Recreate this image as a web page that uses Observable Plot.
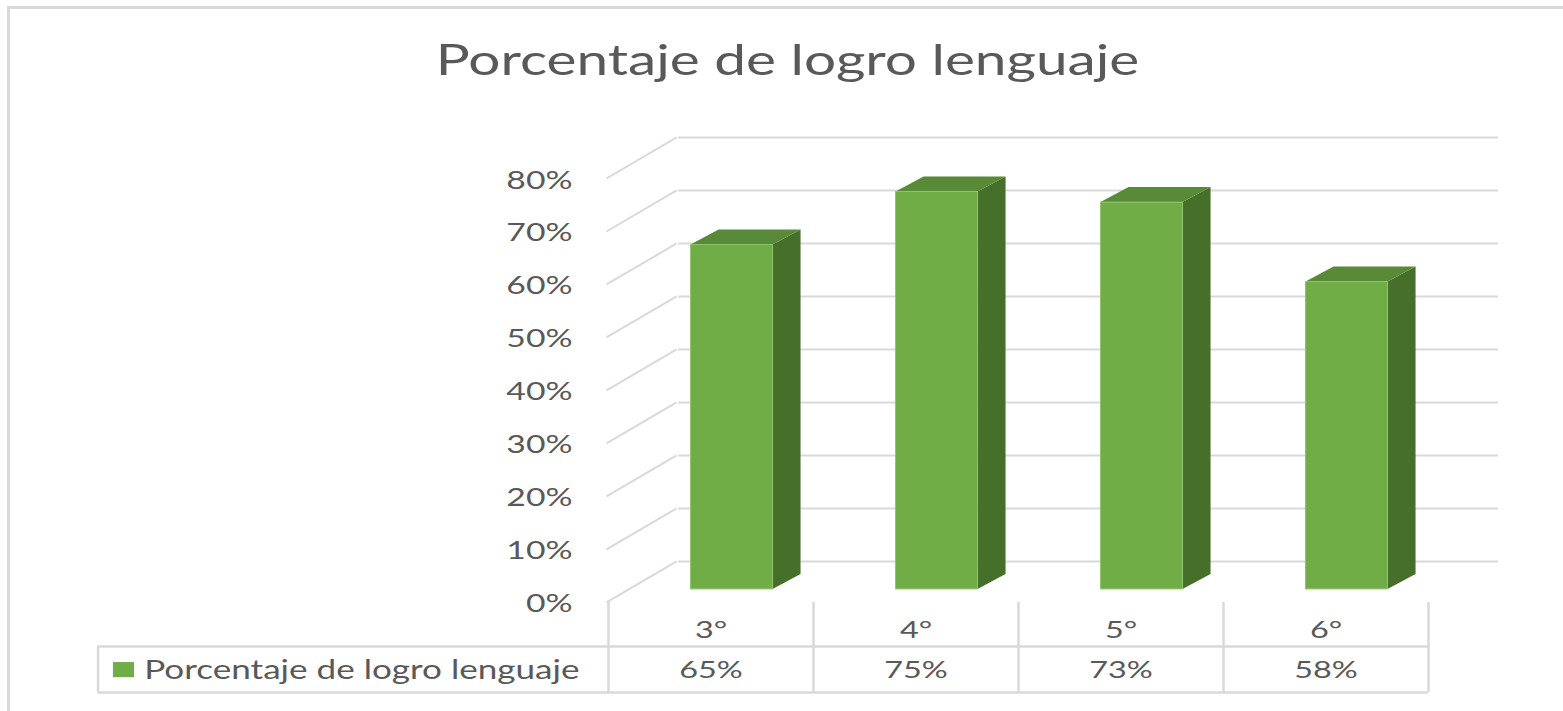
<!DOCTYPE html>
<html>
<head>
<meta charset="utf-8">
<script src="https://cdn.jsdelivr.net/npm/d3@7"></script>
<script src="https://cdn.jsdelivr.net/npm/@observablehq/plot@0.6"></script>
<style>
  html, body { margin: 0; padding: 0; background: #fff; width: 1563px; height: 711px; overflow: hidden; position: relative; }
  #frame { position: absolute; left: 7px; top: 6px; width: 1700px; height: 900px; border-left: 3px solid #d9d9d9; border-top: 3px solid #d9d9d9; pointer-events: none; }
  #title { height: 110px; box-sizing: border-box; padding-top: 34px; padding-left: 13px; text-align: center; font-family: Lato, sans-serif; font-size: 42px; line-height: 1.2; color: #595959; }
  #title span { display: inline-block; transform: scaleX(1.35); }
  #chart svg { display: block; }
</style>
</head>
<body>
<div id="title"><span id="titleText"></span></div>
<div id="chart"></div>
<div id="frame"></div>
<script>
// ---- data ----
const chartTitle = "Porcentaje de logro lenguaje";
const seriesName = "Porcentaje de logro lenguaje";
const categories = ["3°", "4°", "5°", "6°"];
const values = [65, 75, 73, 58];
const valueLabels = ["65%", "75%", "73%", "58%"];
const yTicks = [0, 10, 20, 30, 40, 50, 60, 70, 80];

// ---- styling / 3D geometry constants (data units) ----
const TEXT = "#595959";
const GRID = "#d9d9d9";
const FRONT = "#70ad47", TOP = "#588a38", SIDE = "#466f29";
const BAR_L = 0.31, BAR_R = 0.71;      // bar extent inside its category slot
const SIDE_X = 0.1366, SIDE_Y = 2.83;  // bar depth
const WALL_X = 0.342, WALL_Y = 7.74;   // floor depth to back wall
const ROW1 = -5.3, ROW2 = -12.8, SEP = -8.3, BOTTOM = -17, LEGEND_X = -2.49;
const STRETCH = 1.35;

document.getElementById("titleText").textContent = chartTitle;

const rows = categories.map((c, i) => ({c, i, v: values[i], label: valueLabels[i]}));
const sidePts = rows.flatMap(r => [
  {c: r.c, x: r.i + BAR_R, y1: 0, y2: r.v},
  {c: r.c, x: r.i + BAR_R + SIDE_X, y1: SIDE_Y, y2: r.v + SIDE_Y}
]);
const topPts = rows.flatMap(r => [
  {c: r.c, y: r.v, x1: r.i + BAR_L, x2: r.i + BAR_R},
  {c: r.c, y: r.v + SIDE_Y, x1: r.i + BAR_L + SIDE_X, x2: r.i + BAR_R + SIDE_X}
]);

const BAR_DX = 19, BAR_DY = -13;

const plot = Plot.plot({
  width: 1563,
  height: 601,
  marginLeft: 608,
  marginRight: 135,
  marginTop: 68,
  marginBottom: 19,
  x: {domain: [0, categories.length], axis: null},
  y: {domain: [BOTTOM, 80], axis: null},
  style: {fontFamily: "Lato, sans-serif", background: "white", color: TEXT, overflow: "visible"},
  marks: [
    // left wall (floor-depth) gridlines
    Plot.link(yTicks, {x1: () => 0, y1: d => d, x2: () => WALL_X, y2: d => d + WALL_Y, stroke: GRID, strokeWidth: 2, dx: -2}),
    // back wall gridlines
    Plot.ruleY(yTicks, {y: d => d + WALL_Y, x1: () => WALL_X, x2: () => categories.length + WALL_X, stroke: GRID, strokeWidth: 2}),
    // y axis labels
    Plot.axisY(yTicks, {anchor: "left", tickSize: 0, tickPadding: 36, tickFormat: d => d + "%", fontSize: 25, fill: TEXT, label: null, dy: 2}),
    // bars: side, top, front faces
    Plot.areaY(sidePts, {x: "x", y1: "y1", y2: "y2", z: "c", fill: SIDE, dx: BAR_DX, dy: BAR_DY}),
    Plot.areaX(topPts, {y: "y", x1: "x1", x2: "x2", z: "c", fill: TOP, dx: BAR_DX, dy: BAR_DY}),
    Plot.rect(rows, {x1: d => d.i + BAR_L, x2: d => d.i + BAR_R, y1: () => 0, y2: "v", fill: FRONT, stroke: "#8fc46b", strokeWidth: 1, dx: BAR_DX, dy: BAR_DY}),
    // data table
    Plot.ruleX(d3.range(categories.length + 1), {x: d => d, y1: () => 0, y2: () => BOTTOM, stroke: GRID, strokeWidth: 2.5}),
    Plot.ruleX([LEGEND_X], {x: d => d, y1: () => SEP, y2: () => BOTTOM, stroke: GRID, strokeWidth: 2.5}),
    Plot.ruleY([SEP, BOTTOM], {y: d => d, x1: () => LEGEND_X, x2: () => categories.length, stroke: GRID, strokeWidth: 2.5}),
    Plot.text(rows, {x: d => d.i + 0.5, y: () => ROW1, text: "c", fontSize: 24, fill: TEXT}),
    Plot.text(rows, {x: d => d.i + 0.5, y: () => ROW2, text: "label", fontSize: 24, fill: TEXT}),
    // legend key
    Plot.rect([seriesName], {x1: () => LEGEND_X + 0.075, x2: () => LEGEND_X + 0.178, y1: () => ROW2 + 1.45, y2: () => ROW2 - 1.4, fill: FRONT}),
    Plot.text([seriesName], {x: () => LEGEND_X + 0.225, y: () => ROW2, text: d => d, textAnchor: "start", fontSize: 26, fill: TEXT})
  ]
});

// Horizontal stretch of glyphs to match the reference's wide lettering
plot.querySelectorAll("text").forEach(t => {
  const tr = t.getAttribute("transform") || "";
  t.setAttribute("transform", tr + ` scale(${STRETCH},1)`);
});

document.getElementById("chart").appendChild(plot);
</script>
</body>
</html>
